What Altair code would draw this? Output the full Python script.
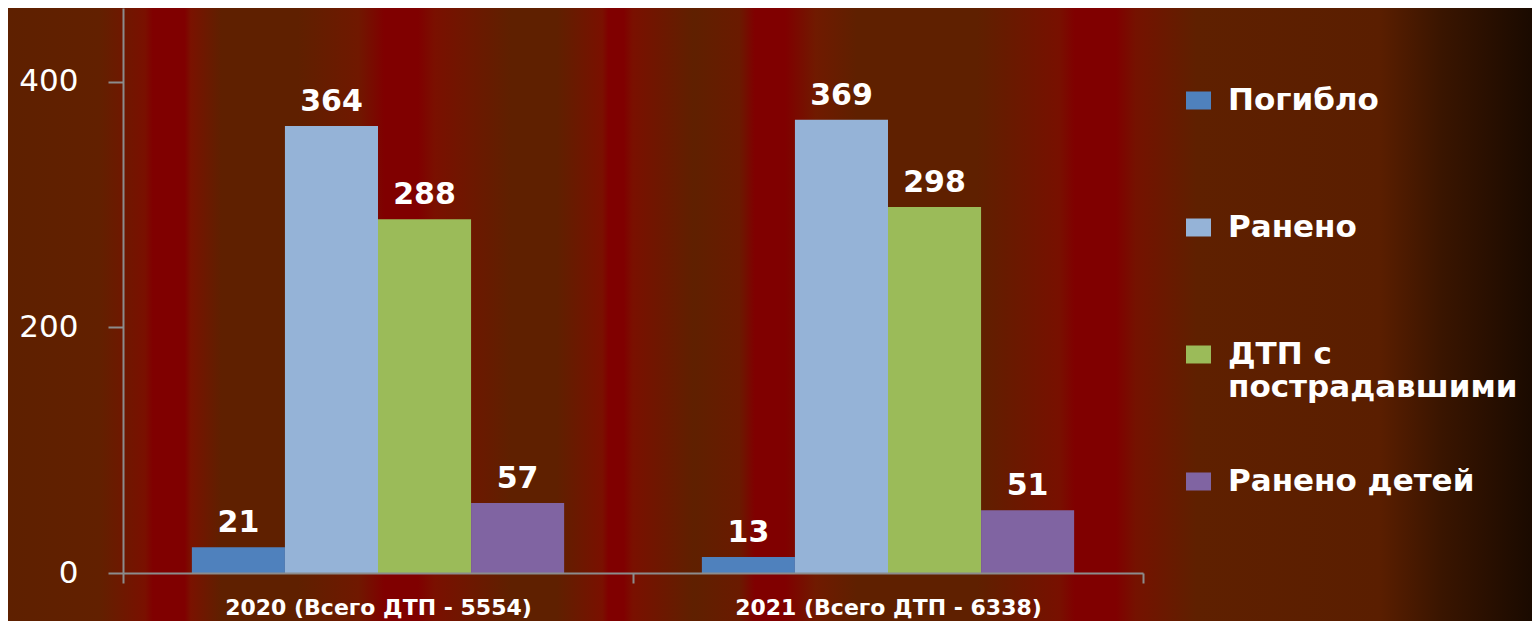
import altair as alt
import pandas as pd

# ---- data ----
years = ["2020 (Всего ДТП - 5554)", "2021 (Всего ДТП - 6338)"]
series = ["Погибло", "Ранено", "ДТП с пострадавшими", "Ранено детей"]
values_2020 = [21, 364, 288, 57]
values_2021 = [13, 369, 298, 51]
colors = ["#4f81bd", "#95b3d7", "#9bbb59", "#8064a2"]
y_ticks = [0, 200, 400]

# background stripes (decorative gradient)
bg_offsets = [0.0, 0.06, 0.09, 0.095, 0.116, 0.12, 0.14, 0.19, 0.23, 0.247, 0.269, 0.28,
              0.33, 0.36, 0.39, 0.394, 0.404, 0.41, 0.45, 0.48, 0.49, 0.51, 0.53, 0.557,
              0.636, 0.69, 0.70, 0.727, 0.74, 0.78, 0.9, 0.94, 1.0]
bg_colors = ["#5e2000", "#622000", "#7a1000", "#800000", "#800000", "#7a1200", "#5f2000",
             "#5f2000", "#701800", "#800000", "#800000", "#7a1000", "#5f2000", "#5f2000",
             "#7a1000", "#800000", "#800000", "#7a1000", "#5f2000", "#6a1a00", "#800000",
             "#800000", "#701a00", "#5f2000", "#5f2000", "#781000", "#800000", "#800000",
             "#751200", "#5f2000", "#5a1e00", "#3a1500", "#1a0a00"]

rows = []
for yr, vals in zip(years, [values_2020, values_2021]):
    for s, v in zip(series, vals):
        rows.append({"year": yr, "series": s, "value": v})
df = pd.DataFrame(rows)

W, H = 1020, 565
PAD = {"left": 115, "top": 0, "right": 389, "bottom": 48}

grad = alt.LinearGradient(
    gradient="linear", x1=0, x2=1, y1=0, y2=0,
    stops=[alt.GradientStop(color=c, offset=o) for o, c in zip(bg_offsets, bg_colors)],
)

bg = alt.Chart(alt.Data(values=[{"k": 1}])).mark_rect(color=grad).encode(
    x=alt.value(-PAD["left"]), x2=alt.value(W + PAD["right"]),
    y=alt.value(0), y2=alt.value(H + PAD["bottom"]),
)

axis_col = "#8c8c8c"
x_enc = alt.X(
    "year:N", sort=years,
    scale=alt.Scale(paddingInner=0, paddingOuter=0),
    axis=alt.Axis(title=None, tickBand="extent", labelAngle=0, labelColor="white",
                  labelFont="DejaVu Sans", labelFontWeight="bold", labelFontSize=22,
                  labelPadding=14, tickSize=10, tickColor=axis_col, tickWidth=2,
                  domainColor=axis_col, domainWidth=2, labelLimit=500, zindex=1),
)
xo_enc = alt.XOffset("series:N", sort=series,
                     scale=alt.Scale(paddingInner=0, paddingOuter=0.74))
y_enc = alt.Y(
    "value:Q",
    scale=alt.Scale(domain=[0, 460], nice=False),
    axis=alt.Axis(title=None, values=y_ticks, grid=False, labelColor="white",
                  labelFont="DejaVu Sans", labelFontSize=31, labelPadding=30,
                  tickSize=15, tickColor=axis_col, tickWidth=2,
                  domainColor=axis_col, domainWidth=2, zindex=1),
)

bars = alt.Chart(df).mark_bar(opacity=1).encode(
    x=x_enc, xOffset=xo_enc, y=y_enc,
    color=alt.Color(
        "series:N", sort=series,
        scale=alt.Scale(domain=series, range=colors),
        legend=alt.Legend(
            title=None, orient="none", legendX=1060, legendY=77,
            symbolType="M-1,-0.72H1V0.72H-1Z", symbolSize=625, symbolStrokeWidth=0,
            symbolOpacity=1, labelFontSize=31, labelFont="DejaVu Sans",
            labelFontWeight="bold", labelColor="white", labelOffset=14,
            rowPadding=62, gridAlign="all", labelLimit=500, padding=0,
            labelExpr="datum.label == 'ДТП с пострадавшими' ? ['ДТП с', 'пострадавшими'] : datum.label",
        ),
    ),
)

labels = alt.Chart(df).mark_text(
    baseline="alphabetic", dy=-15, fontSize=30, fontWeight="bold",
    font="DejaVu Sans", color="white",
).encode(x=x_enc, xOffset=xo_enc, y=y_enc, text=alt.Text("value:Q"))

chart = alt.layer(bg, bars, labels).properties(
    width=W, height=H,
    autosize=alt.AutoSizeParams(type="none"),
    padding=PAD,
    background="#5f2000",
).configure_view(stroke=None)

chart.save("out.html", embed_options={"renderer": "svg", "actions": False})
